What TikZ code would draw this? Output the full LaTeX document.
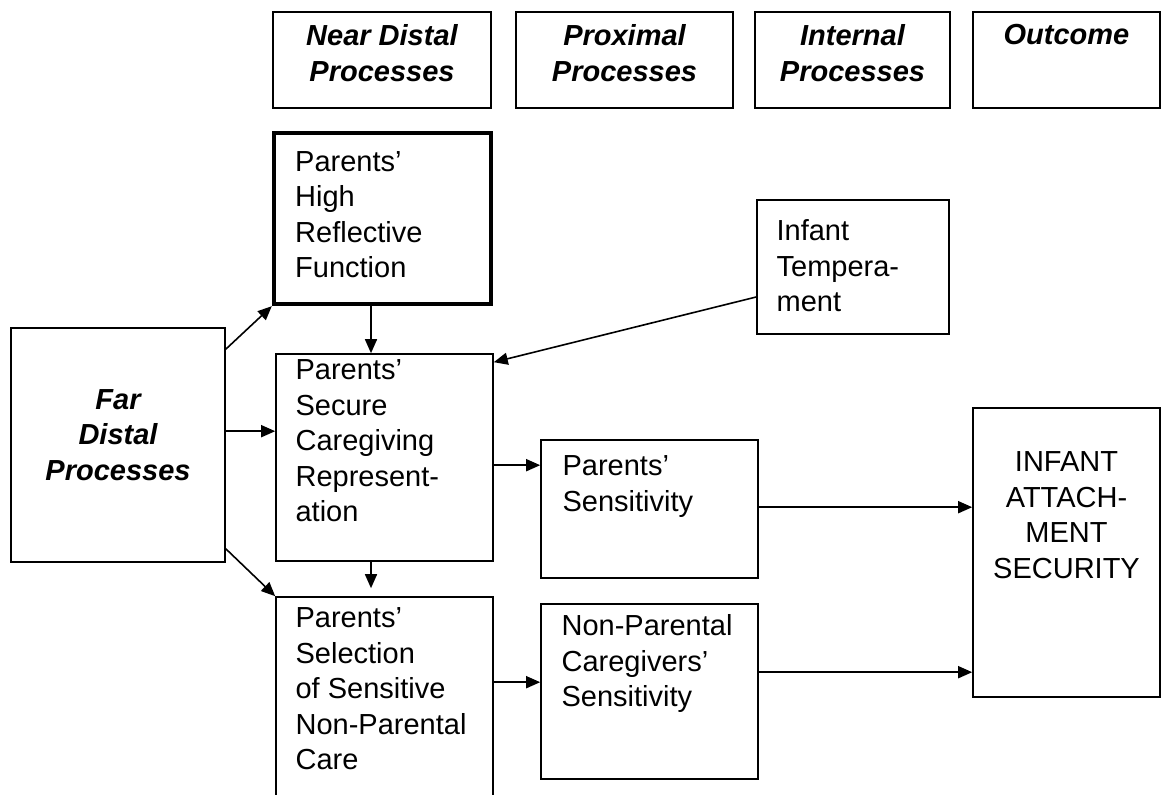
\documentclass[tikz,border=0pt]{standalone}
\usepackage{fontspec}
\setmainfont{Liberation Sans}
\usetikzlibrary{arrows.meta,fit}
\begin{document}
\begin{tikzpicture}[x=0.5pt,y=-0.5pt,
  box/.style={draw, line width=0.8pt, inner sep=0pt},
  thickbox/.style={box, line width=2.2pt},
  txt/.style={font=\fontsize{14.5pt}{17.75pt}\selectfont, align=left, inner sep=0pt, anchor=north west},
  ctxt/.style={font=\fontsize{14.5pt}{17.75pt}\selectfont, align=center, inner sep=0pt, anchor=north},
  hdr/.style={ctxt, font=\fontsize{14.5pt}{17.75pt}\selectfont\bfseries\itshape},
  arr/.style={-{Triangle[length=7pt,width=6pt]}, line width=0.8pt},
]
\useasboundingbox (0,0) rectangle (1163,795);
\clip (0,0) rectangle (1163,795);

% header boxes
\node[box, fit={(273,12)(491,108)}, label={[hdr, yshift=-6.5pt]north:{Near Distal\\Processes}}] (h1) {};
\node[box, fit={(516,12)(733,108)}, label={[hdr, yshift=-6.5pt]north:{Proximal\\Processes}}] (h2) {};
\node[box, fit={(755,12)(950,108)}, label={[hdr, yshift=-6.5pt]north:{Internal\\Processes}}] (h3) {};
\node[box, fit={(973,12)(1160,108)}, label={[hdr, yshift=-6.5pt]north:{Outcome}}] (h4) {};

% content boxes
\node[thickbox, fit={(274,133)(491,304)}, label={[txt, xshift=11.5pt, yshift=-10pt]north west:{Parents’\\High\\Reflective\\Function}}] (hrf) {};
\node[box, fit={(757,200)(949,334)}, label={[txt, xshift=10pt, yshift=-10pt]north west:{Infant\\Tempera-\\ment}}] (temp) {};
\node[box, fit={(11,328)(225,562)}, align=center, font=\fontsize{14.5pt}{17.75pt}\selectfont\bfseries\itshape] (far) {Far\\Distal\\Processes};
\node[box, fit={(276,354)(493,561)}, label={[txt, xshift=10pt, yshift=-3pt]north west:{Parents’\\Secure\\Caregiving\\Represent-\\ation}}] (sec) {};
\node[box, fit={(541,440)(758,578)}, label={[txt, xshift=11pt, yshift=-8pt]north west:{Parents’\\Sensitivity}}] (sens) {};
\node[box, fit={(973,408)(1160,697)}, label={[ctxt, yshift=-22pt]north:{INFANT\\ATTACH-\\MENT\\SECURITY}}] (inf) {};
\node[box, fit={(276,597)(493,820)}, label={[txt, xshift=10pt, yshift=-5.5pt]north west:{Parents’\\Selection\\of Sensitive\\Non-Parental\\Care}}] (sel) {};
\node[box, fit={(541,604)(758,779)}, label={[txt, xshift=10.5pt, yshift=-5.5pt]north west:{Non-Parental\\Caregivers’\\Sensitivity}}] (np) {};

% connectors
\draw[arr] ([yshift=-11pt]far.north east) -- (hrf.south west);
\coordinate (p1) at ([yshift=-52pt]far.north east);
\draw[arr] (p1) -- (p1 -| sec.west);
\draw[arr] ([yshift=7pt]far.south east) -- (sel.north west);
\coordinate (p2) at ([xshift=-5.75pt]hrf.south);
\draw[arr] (p2) -- (p2 |- sec.north);
\draw[arr] ([yshift=-15pt]temp.west) -- ([yshift=-4.5pt]sec.north east);
\coordinate (p3) at ([yshift=-56pt]sec.north east);
\draw[arr] (p3) -- (p3 -| sens.west);
\coordinate (p4) at ([xshift=-6.75pt]sec.south);
\draw[arr, shorten >=4pt] (p4) -- (p4 |- sel.north);
\coordinate (p5) at ([yshift=-34pt]sens.north east);
\draw[arr] (p5) -- (p5 -| inf.west);
\coordinate (p6) at ([yshift=-43pt]sel.north east);
\draw[arr] (p6) -- (p6 -| np.west);
\coordinate (p7) at ([yshift=-34.5pt]np.north east);
\draw[arr] (p7) -- (p7 -| inf.west);
\end{tikzpicture}
\end{document}
